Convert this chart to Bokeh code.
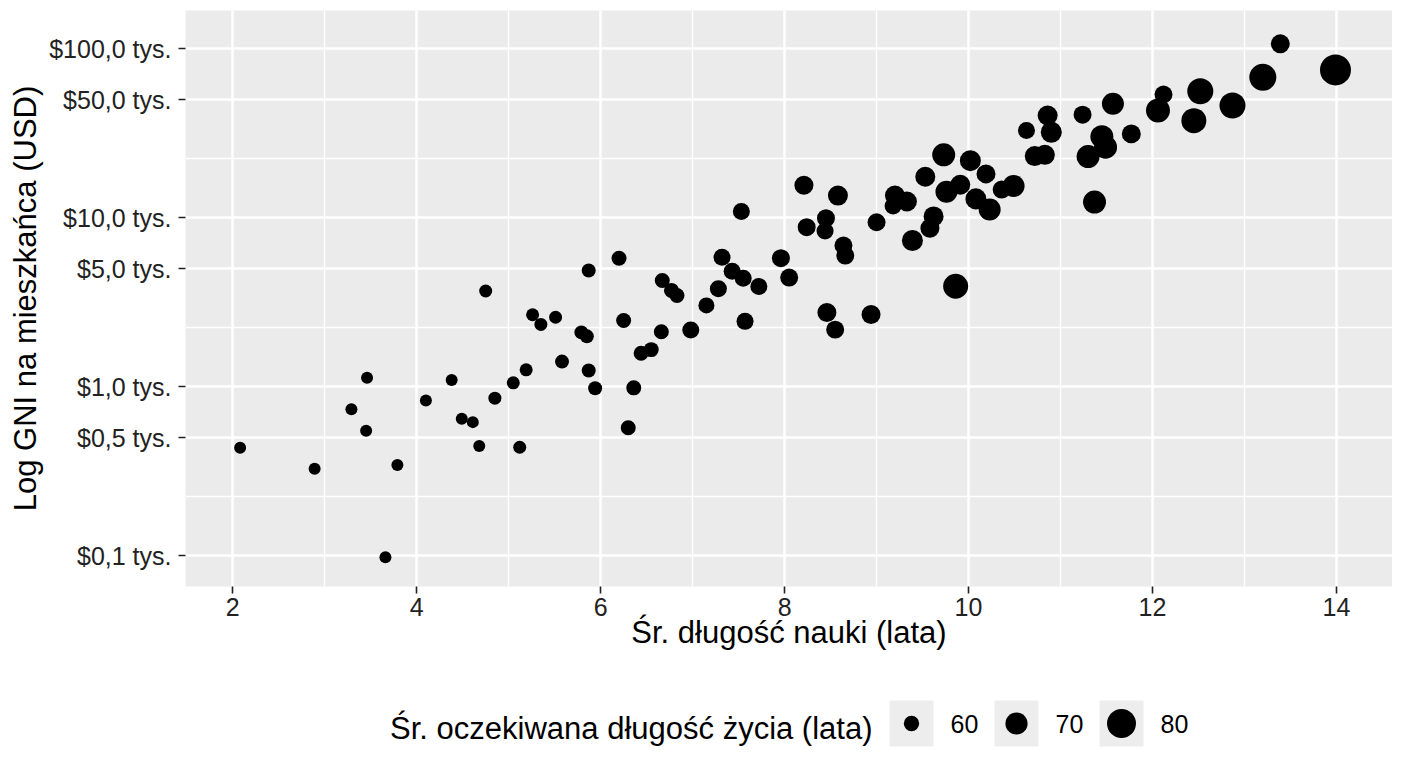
import numpy as np
from bokeh.plotting import figure
from bokeh.models import Range1d, FixedTicker, CustomJSTickFormatter, ColumnDataSource
from bokeh.layouts import column
from bokeh.embed import file_html
from bokeh.resources import INLINE
from bokeh.core.properties import value

# ---------------- data ----------------
schooling = [2.08, 2.89, 3.29, 3.45, 3.46, 3.66, 3.79, 4.10, 4.38, 4.49, 4.61, 4.68, 4.75, 4.85,
             5.05, 5.12, 5.19, 5.26, 5.35, 5.51, 5.58, 5.79, 5.85, 5.87, 5.87, 5.94,
             6.20, 6.25, 6.30, 6.36, 6.44, 6.55, 6.66, 6.67, 6.77, 6.83,
             6.98, 7.15, 7.28, 7.32, 7.43, 7.53, 7.55, 7.57, 7.72, 7.96, 8.05,
             8.21, 8.24, 8.45, 8.44, 8.46, 8.55, 8.58, 8.64, 8.66, 8.94, 9.00, 9.18, 9.20, 9.33,
             9.39, 9.53, 9.58, 9.62, 9.73, 9.76, 9.86, 9.91,
             10.02, 10.08, 10.19, 10.23, 10.36, 10.49, 10.63, 10.72, 10.83, 10.86, 10.90, 11.24,
             11.30, 11.37, 11.45, 11.49, 11.57, 11.77,
             12.06, 12.12, 12.45, 12.52, 12.87, 13.20, 13.39, 13.99]

gni_usd = [436, 327, 736, 549, 1130, 98, 345, 830, 1099, 647, 618, 446, 3690, 857,
           1056, 439, 1261, 2670, 2340, 2580, 1410, 2100, 1990, 4880, 1250, 980,
           5770, 2470, 572, 986, 1580, 1660, 2120, 4260, 3720, 3470,
           2170, 3030, 3800, 5850, 4830, 10900, 4390, 2440, 3920, 5770, 4430,
           15600, 8800, 9950, 8350, 2750, 2180, 13550, 6860, 5980, 2680, 9420, 11750, 13550, 12500,
           7340, 17500, 8670, 10200, 23600, 14250, 3940, 15700,
           21800, 12950, 18200, 11200, 14700, 15450, 32900, 23200, 23600, 40300, 32100, 40800,
           23050, 12400, 30200, 26200, 47300, 31400,
           43200, 53700, 37600, 56100, 46200, 67900, 107100, 75100]

life_exp = [55.0] * 12 + [56.5] * 8 + [57.9] * 6 + [59.4] * 10 + \
           [62.4, 60.9] + [62.4] * 7 + [63.8, 63.8] + \
           [65.3, 63.8, 63.8, 62.4, 65.3, 63.8, 66.8, 63.8, 63.8, 65.3, 63.8, 62.4, 66.8, 66.8,
            68.3, 66.8, 65.3, 66.8, 71.2, 69.7, 74.1, 66.8] + \
           [68.3, 68.3, 65.3, 69.7, 63.8, 69.7, 62.4, 66.8, 66.8, 66.8, 68.3, 63.8, 71.2, 71.2,
            71.2, 71.2, 69.7, 65.3] + \
           [72.6, 63.8, 74.1, 75.6, 75.6, 77.1, 65.3, 83.0]

x_ticks = [2, 4, 6, 8, 10, 12, 14]
x_minor = [3, 5, 7, 9, 11, 13]
y_ticks = [100, 500, 1000, 5000, 10000, 50000, 100000]
y_minor = [223.6, 2236, 22360]
legend_breaks = [60, 70, 80]

x_title = "Śr. długość nauki (lata)"
y_title = "Log GNI na mieszkańca (USD)"
size_title = "Śr. oczekiwana długość życia (lata)"

# ---------------- styling ----------------
FONT = "Liberation Sans"
LE_LO, LE_HI, D_LO, D_HI = 55.0, 83.0, 12.0, 31.0


def dot_size(le):
    return D_LO + (np.asarray(le, dtype=float) - LE_LO) * (D_HI - D_LO) / (LE_HI - LE_LO)


W = 1392
H1 = 690
H2 = 70
FRAME_L = 185
FRAME_R = W

p = figure(width=W, height=H1, x_range=Range1d(1.486, 14.61), y_range=Range1d(65.8, 168700),
           y_axis_type="log", output_backend="svg", toolbar_location=None,
           min_border_left=FRAME_L, min_border_right=W - FRAME_R, min_border_top=10,
           min_border_bottom=H1 - 10 - 576)
p.background_fill_color = "#EBEBEB"
p.border_fill_color = "white"
p.outline_line_color = None

src = ColumnDataSource(dict(x=schooling, y=gni_usd, s=dot_size(life_exp)))
p.scatter("x", "y", size="s", source=src, fill_color="black", line_color=None)

p.xaxis.ticker = FixedTicker(ticks=x_ticks, minor_ticks=x_minor)
p.yaxis.ticker = FixedTicker(ticks=y_ticks, minor_ticks=y_minor)
p.yaxis.formatter = CustomJSTickFormatter(
    code='return "$" + (tick/1000).toFixed(1).replace(".", ",") + " tys.";')

for ax in [p.xaxis[0], p.yaxis[0]]:
    ax.axis_line_color = None
    ax.major_tick_line_color = "#222222"
    ax.major_tick_line_width = 1.6
    ax.major_tick_out = 7
    ax.major_tick_in = 0
    ax.minor_tick_line_color = None
    ax.major_label_text_font = FONT
    ax.major_label_text_font_size = "25px"
    ax.major_label_text_color = "#222222"
    ax.axis_label_text_font = FONT
    ax.axis_label_text_font_size = "31px"
    ax.axis_label_text_font_style = "normal"
    ax.axis_label_text_color = "black"

p.xaxis.axis_label = x_title
p.yaxis.axis_label = y_title
p.xaxis.major_label_standoff = 4
p.xaxis.axis_label_standoff = -4
p.yaxis.major_label_standoff = 7
p.yaxis.axis_label_standoff = 3

p.grid.grid_line_color = "white"
p.grid.grid_line_width = 2.5
p.grid.minor_grid_line_color = "white"
p.grid.minor_grid_line_width = 1.3

# ---------------- size legend (figure whose data units are picture pixels) ----------------
leg = figure(width=W, height=H2, x_range=Range1d(FRAME_L, FRAME_R), y_range=Range1d(H1 + H2, H1),
             output_backend="svg", toolbar_location=None, min_border=0,
             min_border_left=FRAME_L, min_border_right=W - FRAME_R,
             x_axis_location=None, y_axis_location=None)
leg.outline_line_color = None
leg.grid.visible = False
leg.background_fill_color = "white"

KEY_X0, KEY_STEP, KEY_Y = 911, 105, 723
key_x = [KEY_X0 + KEY_STEP * i for i in range(len(legend_breaks))]
key_y = [KEY_Y] * len(legend_breaks)
leg.rect(x=key_x, y=key_y, width=44, height=46, width_units="screen", height_units="screen",
         fill_color="#EDEDED", line_color=None)
leg.scatter(x=key_x, y=key_y, size=dot_size(legend_breaks), fill_color="black", line_color=None)
leg.text(x=[k + 39 for k in key_x], y=[KEY_Y] * len(legend_breaks),
         text=[str(b) for b in legend_breaks], text_font=value(FONT), text_font_size="25px",
         text_baseline="alphabetic", text_color="black")
leg.text(x=[872], y=[KEY_Y + 5], text=[size_title], text_font=value(FONT), text_font_size="31px",
         text_align="right", text_baseline="alphabetic", text_color="black")

layout = column(p, leg, spacing=0)
open("out.html", "w").write(file_html(layout, INLINE))
